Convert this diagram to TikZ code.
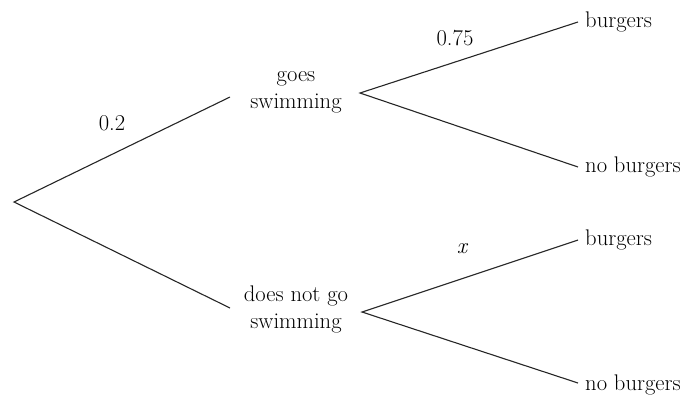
\documentclass[tikz,border=0pt]{standalone}
\begin{document}
\begin{tikzpicture}[x=1pt,y=-1pt,
  lbl/.style={inner sep=0pt,font=\fontsize{22.6}{27}\selectfont},
  endlbl/.style={lbl,anchor=west},
  mid/.style={lbl,align=center},
  branch/.style={draw=black!85,line width=1.1pt}]
\useasboundingbox (0,0) rectangle (693,400);
% branch points
\coordinate (r) at (14,202);
\coordinate (a) at (230,97);
\coordinate (b) at (230,308);
\coordinate (a0) at (360,93);
\coordinate (b0) at (362,312);
\coordinate (a1) at (578,22);
\coordinate (a2) at (578,167);
\coordinate (b1) at (578,240);
\coordinate (b2) at (578,383);
% texts
\node[mid] (gs) at (296,92) {goes\\swimming};
\node[mid] (ngs) at (296,309) {does not go\\swimming};
\node[endlbl] (t1) at (585,22) {burgers};
\node[endlbl] (t2) at (585,167) {no burgers};
\node[endlbl] (t3) at (585,240) {burgers};
\node[endlbl] (t4) at (585,385) {no burgers};
\node[lbl] (p1) at (112,123) {0.2};
\node[lbl] (p2) at (455,38) {0.75};
\node[lbl] (p3) at (462,249) {\itshape x};
% connectors
\draw[branch] (a) -- (r) -- (b);
\draw[branch] (a1) -- (a0) -- (a2);
\draw[branch] (b1) -- (b0) -- (b2);
\end{tikzpicture}
\end{document}
